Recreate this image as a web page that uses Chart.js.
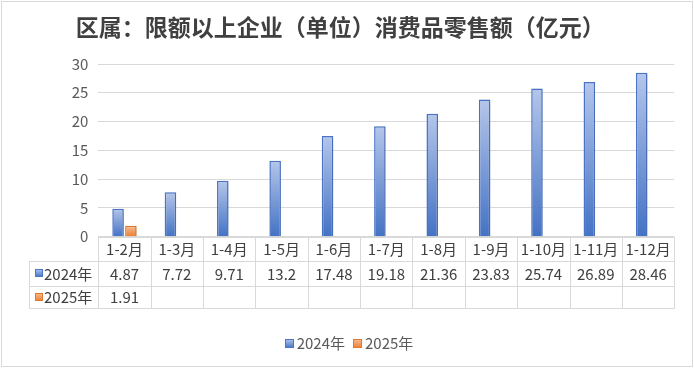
<!DOCTYPE html>
<html>
<head>
<meta charset="utf-8">
<script src="https://cdn.jsdelivr.net/npm/chart.js@4/dist/chart.umd.min.js"></script>
<style>
html,body{margin:0;padding:0;background:#fff;}
#wrap{width:694px;height:368px;position:relative;}
</style>
</head>
<body>
<div id="wrap"><canvas id="c" width="694" height="368"></canvas></div>
<script>
const titleText = '区属：限额以上企业（单位）消费品零售额（亿元）';
const categories = ['1-2月','1-3月','1-4月','1-5月','1-6月','1-7月','1-8月','1-9月','1-10月','1-11月','1-12月'];
const seriesNames = ['2024年','2025年'];
const values2024 = [4.87,7.72,9.71,13.2,17.48,19.18,21.36,23.83,25.74,26.89,28.46];
const values2025 = [1.91,null,null,null,null,null,null,null,null,null,null];
const yTicks = [0,5,10,15,20,25,30];

const FONT = '"Microsoft YaHei","Noto Sans CJK SC","Noto Sans",sans-serif';
const blueTop = '#b4c6ea', blueBot = '#4472c4', blueBorder = '#4a74c8';
const orTop = '#f6be95', orBot = '#ed7d31', orBorder = '#e0782e';

function gradFill(top, bot) {
  return function(context) {
    const chart = context.chart;
    const ys = chart.scales && chart.scales.y;
    const v = context.raw;
    if (!ys || v == null || !chart.chartArea) return bot;
    const yTop = ys.getPixelForValue(v);
    const yBase = ys.getPixelForValue(0);
    if (!isFinite(yTop) || !isFinite(yBase) || yTop === yBase) return bot;
    const g = chart.ctx.createLinearGradient(0, yTop, 0, yBase);
    g.addColorStop(0, top);
    g.addColorStop(1, bot);
    return g;
  };
}

function swatch(ctx, x, cy, size, t, b, bd) {
  const y = Math.round(cy - size / 2);
  const g = ctx.createLinearGradient(0, y, 0, y + size);
  g.addColorStop(0, t); g.addColorStop(1, b);
  ctx.fillStyle = g;
  ctx.fillRect(x, y, size, size);
  ctx.strokeStyle = bd;
  ctx.lineWidth = 1;
  ctx.strokeRect(x + 0.5, y + 0.5, size - 1, size - 1);
}

const tablePlugin = {
  id: 'tablePlugin',
  beforeDatasetsDraw(chart) {
    const ctx = chart.ctx;
    ctx.save();
    ctx.shadowColor = 'rgba(60,60,90,0.18)';
    ctx.shadowBlur = 4;
    ctx.shadowOffsetX = 2;
    ctx.shadowOffsetY = 1;
  },
  afterDatasetsDraw(chart) {
    chart.ctx.restore();
  },
  afterDraw(chart) {
    const ctx = chart.ctx;
    const xs = chart.scales.x;
    const area = chart.chartArea;
    const n = categories.length;
    const half = (xs.getPixelForValue(1) - xs.getPixelForValue(0)) / 2;
    const left = xs.getPixelForValue(0) - half;
    const right = xs.getPixelForValue(n - 1) + half;
    const r0 = area.bottom, r1 = r0 + 24, r2 = r1 + 25, r3 = r2 + 22;
    const tableLeft = 29;
    ctx.save();
    ctx.strokeStyle = '#d9d9d9';
    ctx.lineWidth = 1;
    ctx.beginPath();
    const hl = (y, x0, x1) => { ctx.moveTo(x0, Math.round(y)+0.5); ctx.lineTo(x1, Math.round(y)+0.5); };
    const vl = (x, y0, y1) => { ctx.moveTo(Math.round(x)+0.5, y0); ctx.lineTo(Math.round(x)+0.5, y1); };
    hl(r0, left, right);
    hl(r1, tableLeft, right);
    hl(r2, tableLeft, right);
    hl(r3, tableLeft, right);
    vl(tableLeft, Math.round(r1), Math.round(r3)+1);
    for (let i = 0; i <= n; i++) {
      const x = i < n ? xs.getPixelForValue(i) - half : right;
      vl(x, Math.round(r0), Math.round(r3)+1);
    }
    ctx.stroke();

    ctx.textAlign = 'center';
    ctx.textBaseline = 'middle';
    ctx.font = '15px ' + FONT;
    ctx.fillStyle = '#404040';
    for (let i = 0; i < n; i++) {
      const cx = xs.getPixelForValue(i);
      ctx.fillText(categories[i], cx, (r0 + r1) / 2 + 1);
      if (values2024[i] != null) ctx.fillText(String(values2024[i]), cx, (r1 + r2) / 2 + 1);
      if (values2025[i] != null) ctx.fillText(String(values2025[i]), cx, (r2 + r3) / 2 + 1);
    }
    // row headers
    const rows = [[seriesNames[0], (r1 + r2) / 2, blueTop, blueBot, blueBorder],
                  [seriesNames[1], (r2 + r3) / 2, orTop, orBot, orBorder]];
    ctx.textAlign = 'left';
    rows.forEach(([name, cy, t, b, bd]) => {
      swatch(ctx, 35, cy, 8, t, b, bd);
      ctx.fillStyle = '#404040';
      ctx.fillText(name, 44, cy + 1);
    });

    // legend
    const ly = 343;
    ctx.font = '15px ' + FONT;
    const w0 = ctx.measureText(seriesNames[0]).width;
    const w1 = ctx.measureText(seriesNames[1]).width;
    const box = 9, g1 = 3, g2 = 8;
    const total = box + g1 + w0 + g2 + box + g1 + w1;
    let x = 349 - total / 2;
    swatch(ctx, Math.round(x), ly, box, blueTop, blueBot, blueBorder);
    x += box + g1;
    ctx.fillStyle = '#595959';
    ctx.fillText(seriesNames[0], x, ly);
    x += w0 + g2;
    swatch(ctx, Math.round(x), ly, box, orTop, orBot, orBorder);
    x += box + g1;
    ctx.fillStyle = '#595959';
    ctx.fillText(seriesNames[1], x, ly);

    // outer border
    ctx.strokeStyle = '#d9d9d9';
    ctx.lineWidth = 1;
    ctx.strokeRect(1.5, 1.5, 691, 365);
    ctx.restore();
  }
};

new Chart(document.getElementById('c'), {
  type: 'bar',
  data: {
    labels: categories,
    datasets: [
      { label: seriesNames[0], data: values2024, backgroundColor: gradFill(blueTop, blueBot), borderColor: blueBorder, borderWidth: 1.5,
        categoryPercentage: 0.49, barPercentage: 0.9 },
      { label: seriesNames[1], data: values2025, backgroundColor: gradFill(orTop, orBot), borderColor: orBorder, borderWidth: 1.5,
        categoryPercentage: 0.49, barPercentage: 0.9 }
    ]
  },
  options: {
    responsive: false,
    animation: false,
    layout: { padding: { left: 6, right: 19.7, top: 0, bottom: 40.5 } },
    plugins: {
      title: {
        display: true, text: titleText, color: '#404040',
        font: { family: FONT, size: 23, weight: 'bold' },
        padding: { top: 13, bottom: 23.4 }
      },
      legend: { display: false },
      tooltip: { enabled: false }
    },
    scales: {
      x: {
        grid: { display: false },
        border: { display: false },
        ticks: { display: false },
        afterFit(scale) { scale.height = 90.8; }
      },
      y: {
        min: 0, max: 30,
        afterBuildTicks(scale) { scale.ticks = yTicks.map(v => ({ value: v })); },
        grid: { color: '#d9d9d9', drawTicks: false, lineWidth: 1 },
        border: { display: false },
        ticks: { padding: 10, color: '#595959', font: { family: FONT, size: 15 } },
        afterFit(scale) { scale.width = 92.3; }
      }
    }
  },
  plugins: [tablePlugin]
});
</script>
</body>
</html>
